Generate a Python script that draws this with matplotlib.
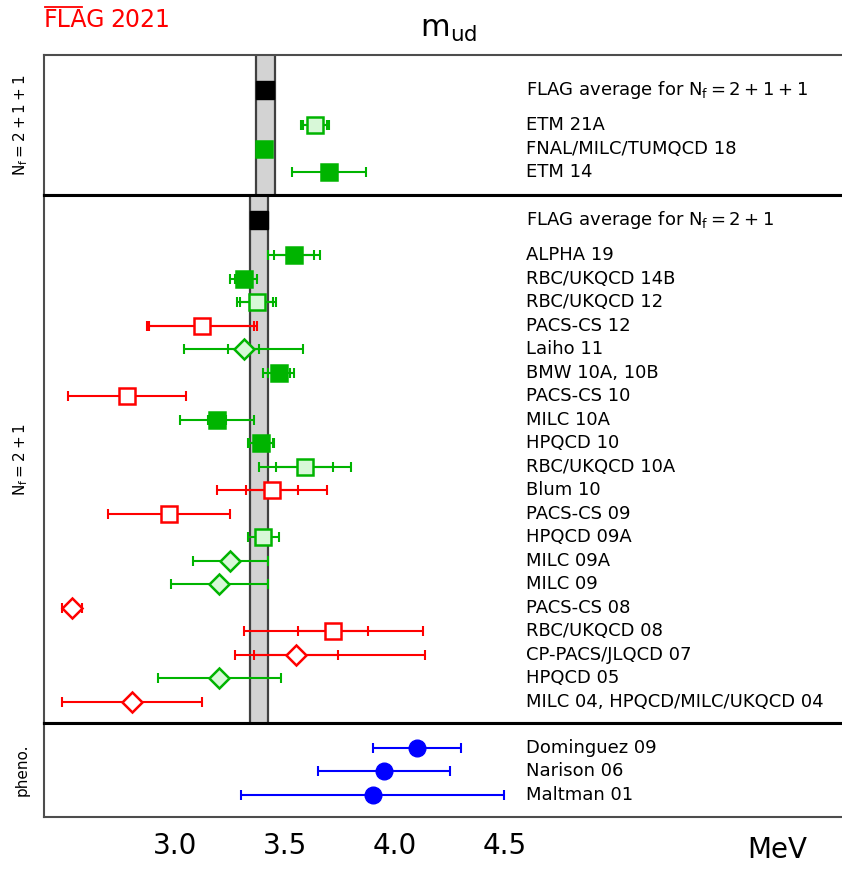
import numpy as np
import matplotlib
matplotlib.use("Agg")
import matplotlib.pyplot as plt
from matplotlib.lines import Line2D

GREEN = "#00b400"
LIGHT = "#d8f8d8"
RED = "#ff0000"
BLUE = "#0000ff"

# FLAG averages (value, half width of band)
avg_4 = (3.410, 0.043)
avg_3 = (3.381, 0.040)

# Nf = 2+1+1
names_4 = ["ETM 21A", "FNAL/MILC/TUMQCD 18", "ETM 14"]
val_4 = [3.636, 3.404, 3.70]
lo_4 = [0.065, 0.025, 0.17]
hi_4 = [0.065, 0.025, 0.17]
stat_4 = [0.055, 0.0, 0.0]
kind_4 = ["open", "filled", "filled"]
sym_4 = ["s", "s", "s"]

# Nf = 2+1
names_3 = ["ALPHA 19", "RBC/UKQCD 14B", "RBC/UKQCD 12", "PACS-CS 12", "Laiho 11",
           "BMW 10A, 10B", "PACS-CS 10", "MILC 10A", "HPQCD 10", "RBC/UKQCD 10A",
           "Blum 10", "PACS-CS 09", "HPQCD 09A", "MILC 09A", "MILC 09",
           "PACS-CS 08", "RBC/UKQCD 08", "CP-PACS/JLQCD 07", "HPQCD 05",
           "MILC 04, HPQCD/MILC/UKQCD 04"]
val_3 = [3.54, 3.31, 3.37, 3.12, 3.31, 3.47, 2.78, 3.19, 3.39, 3.59,
         3.44, 2.97, 3.40, 3.25, 3.20, 2.527, 3.72, 3.55, 3.20, 2.80]
lo_3 = [0.12, 0.06, 0.09, 0.25, 0.27, 0.07, 0.27, 0.17, 0.06, 0.21,
        0.25, 0.28, 0.07, 0.17, 0.22, 0.047, 0.41, 0.28, 0.28, 0.32]
hi_3 = [0.12, 0.06, 0.09, 0.25, 0.27, 0.07, 0.27, 0.17, 0.06, 0.21,
        0.25, 0.28, 0.07, 0.17, 0.22, 0.047, 0.41, 0.59, 0.28, 0.32]
stat_3 = [0.09, 0.04, 0.075, 0.24, 0.07, 0.05, 0.0, 0.04, 0.055, 0.13,
          0.12, 0.0, 0.0, 0.0, 0.0, 0.0, 0.16, 0.19, 0.0, 0.0]
kind_3 = ["filled", "filled", "open", "bad", "open", "filled", "bad", "filled",
          "filled", "open", "bad", "bad", "open", "open", "open", "bad", "bad",
          "bad", "open", "bad"]
sym_3 = ["s", "s", "s", "s", "D", "s", "s", "s", "s", "s",
         "s", "s", "s", "D", "D", "D", "s", "D", "D", "D"]

# phenomenology
names_ph = ["Dominguez 09", "Narison 06", "Maltman 01"]
val_ph = [4.10, 3.95, 3.90]
err_ph = [0.20, 0.30, 0.60]

XMIN, XMAX = 2.40, 6.04
LABEL_X = 4.6
FS = 13

fig = plt.figure(figsize=(8.42, 8.69), dpi=100)
W, H = 842.0, 869.0
left, width = 44 / W, 1 - 44 / W


def make_ax(top_px, bot_px):
    ax = fig.add_axes([left, 1 - bot_px / H, width, (bot_px - top_px) / H])
    ax.set_xlim(XMIN, XMAX)
    ax.set_yticks([])
    ax.spines["right"].set_visible(False)
    ax.spines["left"].set_color("0.3")
    ax.spines["left"].set_linewidth(1.5)
    for s in ("top", "bottom"):
        ax.spines[s].set_color("black")
        ax.spines[s].set_linewidth(2.2)
    ax.tick_params(axis="x", length=0, labelbottom=False)
    return ax


def style(kind):
    if kind == "filled":
        return GREEN, GREEN, GREEN
    if kind == "open":
        return GREEN, LIGHT, GREEN
    if kind == "bad":
        return RED, "white", RED
    return "black", "black", "black"


def draw_point(ax, y, v, lo, hi, st, kind, sym):
    c, fc, ec = style(kind)
    ax.errorbar(v, y, xerr=[[lo], [hi]], fmt="none", ecolor=c, elinewidth=1.5,
                capsize=3.5, capthick=1.5, zorder=3)
    if st > 0:
        ax.errorbar(v, y, xerr=st, fmt="none", ecolor=c, elinewidth=1.5,
                    capsize=3.5, capthick=1.5, zorder=3)
    ms = 10.5 if sym == "D" else 11.5
    ax.plot(v, y, marker=sym, ms=ms, mfc=fc, mec=ec, mew=1.8, ls="none", zorder=4)


def band(ax, avg):
    v, e = avg
    ax.axvspan(v - e, v + e, facecolor="#d3d3d3", edgecolor="none", zorder=1)
    ax.axvline(v - e, color="0.25", lw=1.6, zorder=2)
    ax.axvline(v + e, color="0.25", lw=1.6, zorder=2)
    ax.errorbar(v, 0, xerr=e, fmt="s", color="black", ms=13, elinewidth=1.5,
                capsize=0, zorder=4)


# top panel: Nf = 2+1+1
ax1 = make_ax(55, 195)
ax1.set_ylim(4.47, -1.49)
ax1.spines["top"].set_color("0.3")
ax1.spines["top"].set_linewidth(1.5)
band(ax1, avg_4)
ax1.text(LABEL_X, 0, r"FLAG average for $\mathrm{N_f=2+1+1}$", fontsize=FS, va="center")
for i in range(len(names_4)):
    y = 1.5 + i
    draw_point(ax1, y, val_4[i], lo_4[i], hi_4[i], stat_4[i], kind_4[i], sym_4[i])
    ax1.text(LABEL_X, y, names_4[i], fontsize=FS, va="center")
ax1.set_ylabel(r"$\mathrm{N_f=2+1+1}$", fontsize=11, labelpad=10)

# middle panel: Nf = 2+1
ax2 = make_ax(195, 723)
ax2.set_ylim(21.41, -1.06)
band(ax2, avg_3)
ax2.text(LABEL_X, 0, r"FLAG average for $\mathrm{N_f=2+1}$", fontsize=FS, va="center")
for i in range(len(names_3)):
    y = 1.5 + i
    draw_point(ax2, y, val_3[i], lo_3[i], hi_3[i], stat_3[i], kind_3[i], sym_3[i])
    ax2.text(LABEL_X, y, names_3[i], fontsize=FS, va="center")
ax2.set_ylabel(r"$\mathrm{N_f=2+1}$", fontsize=11, labelpad=10)

# bottom panel: phenomenology
ax3 = make_ax(723, 817)
ax3.set_ylim(2.94, -1.06)
ax3.spines["bottom"].set_color("0.3")
ax3.spines["bottom"].set_linewidth(1.5)
for i in range(len(names_ph)):
    ax3.errorbar(val_ph[i], i, xerr=err_ph[i], fmt="o", color=BLUE, ms=12,
                 elinewidth=1.5, capsize=3.5, capthick=1.5, zorder=3)
    ax3.text(LABEL_X, i, names_ph[i], fontsize=FS, va="center")
ax3.set_ylabel("pheno.", fontsize=11, labelpad=10)
ax3.set_xticks([3.0, 3.5, 4.0, 4.5])
ax3.set_xticklabels(["3.0", "3.5", "4.0", "4.5"])
ax3.tick_params(axis="x", length=0, labelbottom=True, labelsize=20, pad=11)

fig.text(0.533, 0.966, r"$\mathrm{m_{ud}}$", fontsize=22, ha="center", va="center")
fig.text(0.923, 0.022, "MeV", fontsize=20, ha="center", va="center")

# FLAG logo with a bar over "FLA"
fig.text(44 / W, 1 - 27 / H, "FLAG", fontsize=17, color="red", ha="left", va="baseline")
fig.text(110 / W, 1 - 27 / H, "2021", fontsize=17, color="red", ha="left", va="baseline")
fig.add_artist(Line2D([45 / W, 82 / W], [1 - 7 / H, 1 - 7 / H], color="red", lw=1.3))

fig.savefig("out.png", dpi=100)
